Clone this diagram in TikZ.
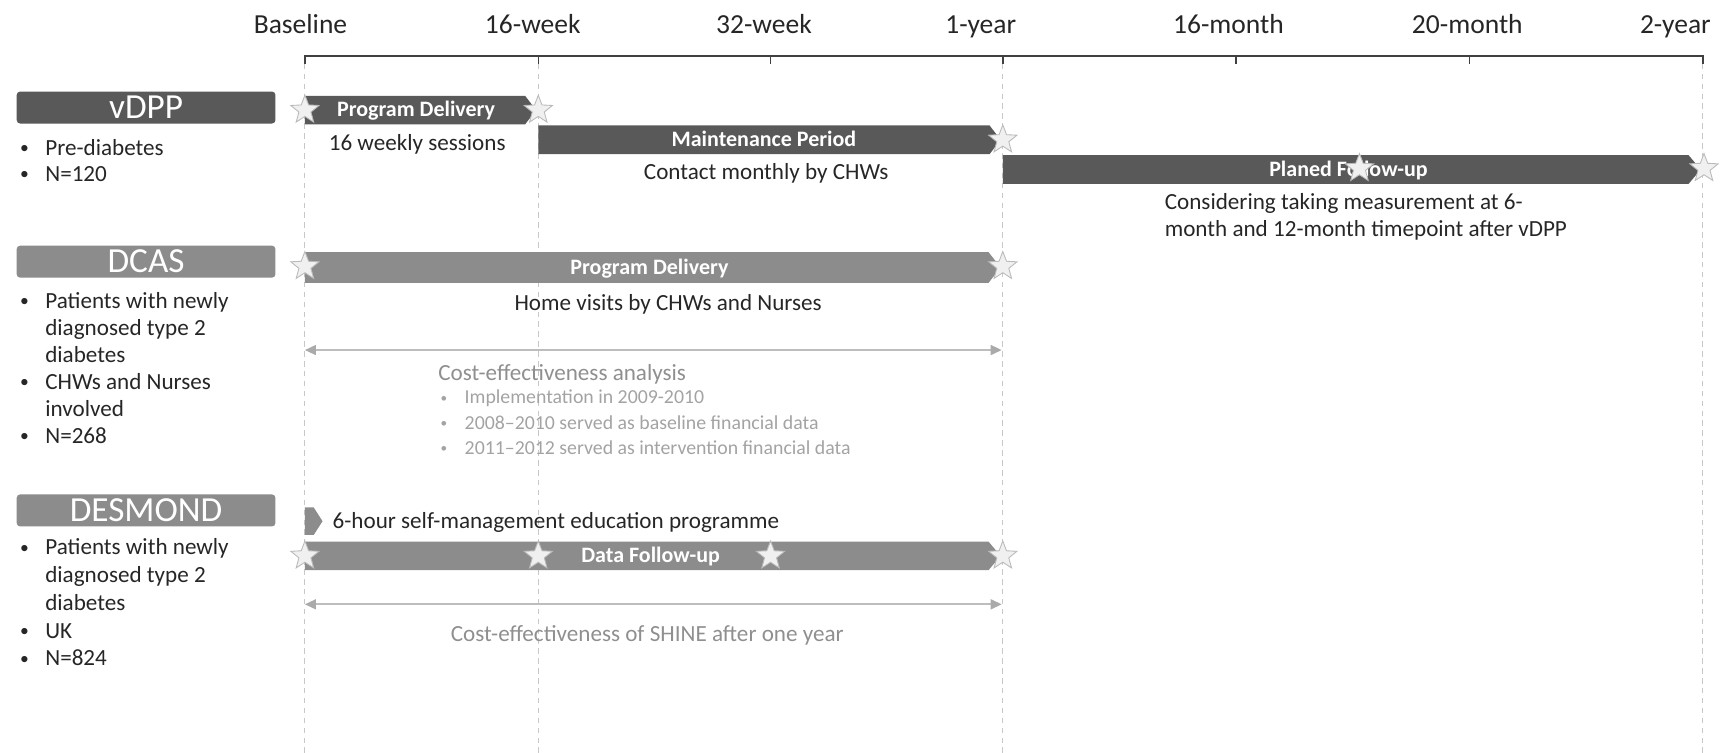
\documentclass[tikz,border=0pt]{standalone}
\usepackage{fontspec}
\setmainfont{Carlito}
\usetikzlibrary{shapes.geometric,arrows.meta}
\definecolor{txt}{HTML}{262626}
\definecolor{darkbar}{HTML}{595959}
\definecolor{midbar}{HTML}{8C8C8C}
\definecolor{ltxt}{HTML}{8F8F8F}
\definecolor{stxt}{HTML}{A3A3A3}
\definecolor{dline}{HTML}{C8C8C8}
\definecolor{aline}{HTML}{BDBDBD}
\definecolor{axiscol}{HTML}{404040}
\definecolor{starfill}{HTML}{F0F0F0}
\definecolor{stardraw}{HTML}{BABABA}
\newcommand{\smbul}{\raisebox{1.5pt}{\fontsize{16}{16}\selectfont\textbullet}}
\begin{document}
\begin{tikzpicture}[x=1pt,y=-1pt,
  hdr/.style={font=\fontsize{25}{30}\selectfont, text=txt, inner sep=0, anchor=base},
  ttl/.style={rounded corners=3pt, minimum width=235pt, minimum height=29pt, inner sep=0,
              font=\fontsize{32}{36}\selectfont, text=white, anchor=north west},
  blist/.style={inner sep=0, anchor=base west, text=txt},
  lbl/.style={font=\fontsize{21}{25}\selectfont, text=txt, inner sep=0, anchor=base},
  barlbl/.style={font=\fontsize{20}{24}\selectfont\bfseries, text=white, inner sep=0, anchor=base},
  glbl/.style={font=\fontsize{21}{25}\selectfont, text=ltxt, inner sep=0, anchor=base west},
  stern/.style={star, star points=5, star point ratio=2.35, minimum size=27pt, inner sep=0,
                fill=starfill, draw=stardraw, line width=0.8pt},
  vdash/.style={draw=dline, line width=1pt, dash pattern=on 5pt off 4pt},
  dbl/.style={draw=aline, line width=1.6pt,
              {Triangle[length=10pt,width=9pt,color=aline!90!black]}-{Triangle[length=10pt,width=9pt,color=aline!90!black]}},
  axisline/.style={draw=axiscol, line width=1.8pt}
]
\useasboundingbox (0,0) rectangle (1568,684);

% ---------- time axis ----------
\coordinate (t0) at (277,51);
\coordinate (t1) at (489,51);
\coordinate (t2) at (700,51);
\coordinate (t3) at (911,51);
\coordinate (t4) at (1123,51);
\coordinate (t5) at (1335,51);
\coordinate (t6) at (1547,51);

% dashed guides
\draw[vdash] (277,58) -- (277,684);
\draw[vdash] (489,58) -- (489,684);
\draw[vdash] (911,58) -- (911,684);
\draw[vdash] (1547,58) -- (1547,684);

\draw[axisline] ([yshift=-7pt]t0) -- (t0) -- (t6) -- ([yshift=-7pt]t6);
\foreach \t in {t1,t2,t3,t4,t5} \draw[axisline, line width=1.4pt] (\t) -- ([yshift=-7pt]\t);

\node[hdr] (h0) at (273,30) {Baseline};
\node[hdr] (h1) at (484,30) {16-week};
\node[hdr] (h2) at (694,30) {32-week};
\node[hdr] (h3) at (891,30) {1-year};
\node[hdr] (h4) at (1116,30) {16-month};
\node[hdr] (h5) at (1333,30) {20-month};
\node[hdr] (h6) at (1522,30) {2-year};

% ---------- left titles ----------
\node[ttl, fill=darkbar] (tv) at (15,83) {vDPP};
\node[ttl, fill=midbar] (tc) at (15,223) {DCAS};
\node[ttl, fill=midbar] (td) at (15,449) {DESMOND};

\node[blist, font=\fontsize{21}{24}\selectfont] (bv) at (18,141)
  {\begin{tabular}[t]{@{}l@{\hspace{15pt}}l@{}}\smbul & Pre-diabetes\\ \smbul & N=120\end{tabular}};
\node[blist, font=\fontsize{21}{24.6}\selectfont] (bc) at (18,280)
  {\begin{tabular}[t]{@{}l@{\hspace{15pt}}l@{}}\smbul & Patients with newly\\ & diagnosed type 2\\ & diabetes\\
   \smbul & CHWs and Nurses\\ & involved\\ \smbul & N=268\end{tabular}};
\node[blist, font=\fontsize{21}{25.2}\selectfont] (bd) at (18,504)
  {\begin{tabular}[t]{@{}l@{\hspace{15pt}}l@{}}\smbul & Patients with newly\\ & diagnosed type 2\\ & diabetes\\
   \smbul & UK\\ \smbul & N=824\end{tabular}};

% ---------- vDPP bars ----------
\fill[darkbar] (277,87) -- (477,87) -- (487,100) -- (477,113) -- (277,113) -- cycle;
\fill[darkbar] (489,114) -- (899,114) -- (909,127) -- (899,140) -- (489,140) -- cycle;
\fill[darkbar] (911,141) -- (1534,141) -- (1545,154) -- (1534,167) -- (911,167) -- cycle;
\node[barlbl] (lpd1) at (378,106) {Program Delivery};
\node[barlbl] (lmp) at (694,133) {Maintenance Period};
\node[barlbl] (lpf) at (1225,160) {Planed Follow-up};

\node[lbl] (n16) at (379,137) {16 weekly sessions};
\node[lbl] (ncm) at (696,163) {Contact monthly by CHWs};
\node[lbl, anchor=base west] (ncons1) at (1058,190) {Considering taking measurement at 6-};
\node[lbl, anchor=base west] (ncons2) at (1058,215) {month and 12-month timepoint after vDPP};

% ---------- DCAS ----------
\fill[midbar] (277,229) -- (898,229) -- (909,243) -- (898,257) -- (277,257) -- cycle;
\node[barlbl] (lpd2) at (590,249) {Program Delivery};
\node[lbl] (nhv) at (607,282) {Home visits by CHWs and Nurses};

\coordinate (c1l) at (277,318);
\coordinate (c1r) at (910,318);
\draw[dbl] (c1l) -- (c1r);

\node[glbl] (cea) at (398,346) {Cost-effectiveness analysis};
\node[blist, text=stxt, font=\fontsize{18}{23}\selectfont] (ceb) at (400,367)
  {\begin{tabular}[t]{@{}l@{\hspace{16pt}}l@{}}{\fontsize{12}{12}\selectfont\raisebox{1.5pt}{\textbullet}} & Implementation in 2009-2010\\
   {\fontsize{12}{12}\selectfont\raisebox{1.5pt}{\textbullet}} & 2008--2010 served as baseline financial data\\
   {\fontsize{12}{12}\selectfont\raisebox{1.5pt}{\textbullet}} & 2011--2012 served as intervention financial data\end{tabular}};

% ---------- DESMOND ----------
\fill[midbar] (277,461) -- (285,461) -- (293,473.5) -- (285,486) -- (277,486) -- cycle;
\node[lbl, anchor=base west] (n6h) at (302,480) {6-hour self-management education programme};
\fill[midbar] (277,492) -- (898,492) -- (909,505) -- (898,518) -- (277,518) -- cycle;
\node[barlbl] (ldf) at (591,511) {Data Follow-up};

\coordinate (c2l) at (277,549);
\coordinate (c2r) at (910,549);
\draw[dbl] (c2l) -- (c2r);
\node[lbl, text=ltxt] (ceS) at (588,583) {Cost-effectiveness of SHINE after one year};

% ---------- stars ----------
\node[stern] (s1) at (277,100) {};
\node[stern] (s2) at (489,100) {};
\node[stern] (s3) at (911,127) {};
\node[stern] (s4) at (1235,153) {};
\node[stern] (s5) at (1548,153) {};
\node[stern] (s6) at (277,242) {};
\node[stern] (s7) at (911,242) {};
\node[stern] (s8) at (277,505) {};
\node[stern] (s9) at (489,505) {};
\node[stern] (s10) at (700,505) {};
\node[stern] (s11) at (911,505) {};
\end{tikzpicture}
\end{document}
